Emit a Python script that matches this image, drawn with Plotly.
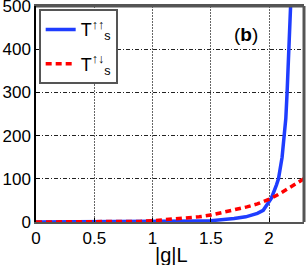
import plotly.graph_objects as go

# T_s^{↑↑} (blue, solid)
x_uu = [0.0, 0.5, 0.8, 1.0, 1.2, 1.4, 1.5, 1.6, 1.7, 1.8, 1.85, 1.9, 1.95, 2.0, 2.02,
        2.064, 2.081, 2.112, 2.129, 2.144, 2.155, 2.168, 2.185]
t_uu = [0.0, 0.2, 0.6, 1.0, 1.5, 2.5, 3.0, 5.0, 8.0, 12, 15, 20, 27, 45, 55,
        86, 100, 150, 202, 240, 300, 400, 500]

# T_s^{↑↓} (red, dashed)
x_ud = [0.0, 0.5, 0.8, 0.9, 1.0, 1.2, 1.4, 1.5, 1.66, 1.81, 1.9, 2.02, 2.1, 2.18, 2.3]
t_ud = [0.0, 0.0, 0.5, 1.5, 3.0, 7.0, 12, 16, 25, 35, 42, 55, 67, 80, 100]

x_ticks = [0, 0.5, 1, 1.5, 2]
x_tick_labels = ["0", "0.5", "1", "1.5", "2"]
y_ticks = [0, 100, 200, 300, 400, 500]

fig = go.Figure()
fig.add_trace(go.Scatter(x=x_uu, y=t_uu, mode="lines", name="T<sup>↑↑</sup><sub>s</sub>",
                         legendgroup="a",
                         line=dict(color="#1f3dff", width=3.5)))
fig.add_trace(go.Scatter(x=x_ud, y=t_ud, mode="lines", name="T<sup>↑↓</sup><sub>s</sub>",
                         legendgroup="b",
                         line=dict(color="#ff0000", width=3.5, dash="6px,4px")))

fig.update_layout(
    width=307, height=265,
    margin=dict(l=36, r=3, t=6, b=43, autoexpand=False),
    paper_bgcolor="white", plot_bgcolor="white",
    font=dict(family="Liberation Sans, Arial, sans-serif", size=17, color="black"),
    showlegend=True,
    legend=dict(x=0.01, y=0.985, xanchor="left", yanchor="top",
                bgcolor="white", bordercolor="#555555", borderwidth=2,
                font=dict(size=18), tracegroupgap=8, itemwidth=30),
    xaxis=dict(range=[0, 2.3], tickvals=x_ticks, ticktext=x_tick_labels,
               showgrid=True, gridcolor="#666666", griddash="2px,1px", gridwidth=1,
               zeroline=False, showline=True, linecolor="#555555", linewidth=2,
               mirror=True, ticks="inside", ticklen=4, tickcolor="black",
               automargin=False, ticklabeloverflow="allow"),
    yaxis=dict(range=[0, 500], tickvals=y_ticks,
               showgrid=True, gridcolor="#222222", griddash="4px,2px,1px,2px", gridwidth=1,
               zeroline=False, showline=True, linecolor="black", linewidth=1.5,
               mirror=False, ticks="inside", ticklen=4, tickcolor="black",
               automargin=False, ticklabeloverflow="allow"),
    shapes=[
        dict(type="line", xref="paper", yref="paper", x0=0, x1=1, y0=1, y1=1,
             line=dict(color="#555555", width=3)),
        dict(type="line", xref="paper", yref="paper", x0=1, x1=1, y0=0, y1=1,
             line=dict(color="#555555", width=3)),
    ],
    annotations=[
        dict(text="(<b>b</b>)", xref="paper", yref="paper", x=0.785, y=0.87,
             showarrow=False, font=dict(size=19), xanchor="center", yanchor="middle"),
        dict(text="|g|L", xref="paper", yref="paper", x=0.505, y=-0.092,
             showarrow=False, font=dict(size=20), xanchor="center", yanchor="top"),
    ],
)

fig.write_html("out.html", config={"displayModeBar": False},
               post_script="document.body.style.margin='0';document.body.style.overflow='hidden';")
